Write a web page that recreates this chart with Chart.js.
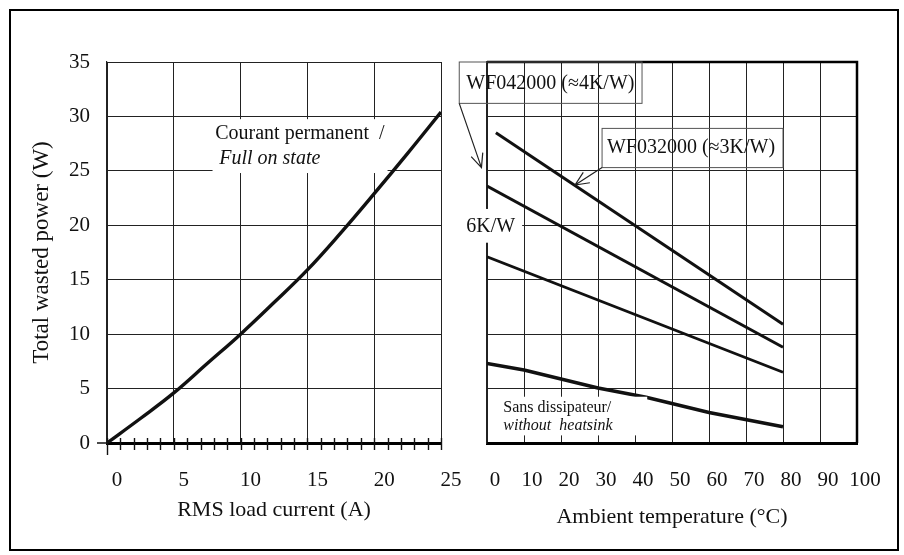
<!DOCTYPE html>
<html>
<head>
<meta charset="utf-8">
<script src="https://cdn.jsdelivr.net/npm/chart.js@4.4.1/dist/chart.umd.min.js"></script>
<style>
    html, body { margin: 0; padding: 0; background: #fff; }
    #wrap { position: relative; width: 904px; height: 555px; overflow: hidden; }
    #frame { position: absolute; left: 9px; top: 9px; width: 886px; height: 538px; border: 2px solid #000; }
    canvas { position: absolute; left: 0; top: 0; }
</style>
</head>
<body>
<div id="wrap">
    <div id="frame"></div>
    <canvas id="leftChart" width="904" height="555"></canvas>
    <canvas id="rightChart" width="904" height="555"></canvas>
</div>
<script>
// Left panel: total wasted power vs RMS load current
const currentA = [0, 2.5, 5, 7.5, 10, 12.5, 15, 17.5, 20, 22.5, 25];
const powerW = [0, 2.25, 4.6, 7.3, 10, 12.9, 15.9, 19.3, 22.9, 26.6, 30.4];

// Right panel: allowed power vs ambient temperature, per heatsink
const tempWF032 = [2.4, 80];
const powerWF032 = [28.5, 10.9];
const tempWF042 = [0, 80];
const powerWF042 = [23.6, 8.8];
const temp6KW = [0, 80];
const power6KW = [17.1, 6.5];
const tempNoSink = [0, 10, 30, 43, 60, 80];
const powerNoSink = [7.3, 6.7, 5.05, 4.2, 2.8, 1.5];

// Axis ticks
const leftXTicks = [0, 5, 10, 15, 20, 25];
const rightXTicks = [0, 10, 20, 30, 40, 50, 60, 70, 80, 90, 100];
const yTicks = [0, 5, 10, 15, 20, 25, 30, 35];

const SERIF = "'Liberation Serif', 'Times New Roman', serif";
Chart.defaults.font.family = SERIF;
Chart.defaults.color = '#111';

const toPoints = (xs, ys) => xs.map((x, i) => ({ x: x, y: ys[i] }));
const px = (chart, x, y) => [chart.scales.x.getPixelForValue(x), chart.scales.y.getPixelForValue(y)];

function whiteBox(chart, x1, y1, x2, y2) {
    const [a, b] = px(chart, x1, y1);
    const [c, d] = px(chart, x2, y2);
    chart.ctx.fillStyle = '#fff';
    chart.ctx.fillRect(a, b, c - a, d - b);
}

function label(chart, text, x, y, size, italic) {
    const ctx = chart.ctx;
    const [a, b] = px(chart, x, y);
    ctx.font = (italic ? 'italic ' : '') + size + 'px ' + SERIF;
    ctx.fillStyle = '#111';
    ctx.textBaseline = 'middle';
    ctx.textAlign = 'left';
    ctx.fillText(text, a, b);
}

function arrow(chart, x1, y1, x2, y2) {
    const ctx = chart.ctx;
    const [a, b] = px(chart, x1, y1);
    const [c, d] = px(chart, x2, y2);
    const ang = Math.atan2(d - b, c - a);
    ctx.strokeStyle = '#222';
    ctx.lineWidth = 1.2;
    ctx.beginPath();
    ctx.moveTo(a, b);
    ctx.lineTo(c, d);
    ctx.moveTo(c - 15 * Math.cos(ang - 0.42), d - 15 * Math.sin(ang - 0.42));
    ctx.lineTo(c, d);
    ctx.lineTo(c - 15 * Math.cos(ang + 0.42), d - 15 * Math.sin(ang + 0.42));
    ctx.stroke();
}

const leftDecor = {
    id: 'leftDecor',
    afterDatasetsDraw(chart) {
        const ctx = chart.ctx;
        ctx.save();
        whiteBox(chart, 7.9, 29.75, 21, 24.8);
        label(chart, 'Courant permanent  /', 8.1, 28.4, 20, false);
        label(chart, 'Full on state', 8.4, 26.1, 20, true);
        ctx.restore();
    },
    afterDraw(chart) {
        // minor ticks every 1 A across the bottom axis
        const ctx = chart.ctx;
        const xs = chart.scales.x;
        const y0 = chart.scales.y.getPixelForValue(0);
        ctx.save();
        ctx.strokeStyle = '#111';
        ctx.lineWidth = 1.4;
        ctx.beginPath();
        for (let v = 0; v <= 25; v++) {
            const x = Math.round(xs.getPixelForValue(v)) + 0.5;
            ctx.moveTo(x, y0 - 5);
            ctx.lineTo(x, y0 + (v === 0 ? 12 : 7));
        }
        ctx.moveTo(chart.chartArea.left - 10, y0);
        ctx.lineTo(chart.chartArea.left, y0);
        ctx.stroke();
        ctx.restore();
    }
};

const rightDecor = {
    id: 'rightDecor',
    afterDatasetsDraw(chart) {
        const ctx = chart.ctx;
        const area = chart.chartArea;
        ctx.save();
        // thick top and right frame of the panel
        ctx.strokeStyle = '#000';
        ctx.lineWidth = 2.5;
        ctx.beginPath();
        ctx.moveTo(area.left, area.top);
        ctx.lineTo(area.right, area.top);
        ctx.lineTo(area.right, area.bottom);
        ctx.stroke();

        // label boxes
        ctx.strokeStyle = '#555';
        ctx.lineWidth = 1;
        let [a, b] = px(chart, -7.5, 35);
        let [c, d] = px(chart, 41.9, 31.2);
        ctx.strokeRect(a, b, c - a, d - b);
        [a, b] = px(chart, 31.1, 28.9);
        [c, d] = px(chart, 80, 25.3);
        ctx.strokeRect(a, b, c - a, d - b);

        label(chart, 'WF042000 (\u22484K/W)', -5.6, 33.0, 20, false);
        label(chart, 'WF032000 (\u22483K/W)', 32.4, 27.1, 20, false);
        arrow(chart, -7.5, 31.2, -1.5, 25.3);
        arrow(chart, 31.1, 25.3, 23.8, 23.7);

        whiteBox(chart, -6.7, 21.5, 9.5, 18.4);
        label(chart, '6K/W', -5.6, 19.9, 20, false);

        whiteBox(chart, 2.8, 4.25, 43.3, 0.7);
        label(chart, 'Sans dissipateur/', 4.4, 3.2, 16, false);
        label(chart, 'without  heatsink', 4.4, 1.55, 16, true);
        ctx.restore();
    }
};

const commonY = {
    type: 'linear',
    min: 0,
    max: 35,
    afterBuildTicks: s => { s.ticks = yTicks.map(v => ({ value: v })); },
    grid: { color: '#222', lineWidth: 1, drawTicks: false },
    border: { color: '#222', width: 1.2 }
};

new Chart(document.getElementById('leftChart'), {
    type: 'line',
    data: {
        datasets: [{
            data: toPoints(currentA, powerW),
            borderColor: '#111',
            borderWidth: 3.4,
            pointRadius: 0,
            tension: 0.4,
            fill: false
        }]
    },
    options: {
        responsive: false,
        animation: false,
        devicePixelRatio: 1,
        events: [],
        layout: { padding: { left: 0, top: 62, right: 463, bottom: 0 } },
        plugins: { legend: { display: false }, tooltip: { enabled: false } },
        scales: {
            x: {
                type: 'linear',
                min: 0,
                max: 25,
                afterBuildTicks: s => { s.ticks = leftXTicks.map(v => ({ value: v })); },
                afterFit: s => { s.height = 112; },
                grid: { color: '#222', lineWidth: 1, drawTicks: false },
                border: { color: '#000', width: 3 },
                ticks: { padding: 25, labelOffset: 10, font: { size: 21 }, maxRotation: 0, autoSkip: false },
                title: { display: true, text: 'RMS load current (A)', font: { size: 22 }, padding: { top: 0, bottom: 32 } }
            },
            y: Object.assign({}, commonY, {
                afterFit: s => { s.width = 107; },
                ticks: { padding: 17, font: { size: 21 } },
                title: { display: true, text: 'Total wasted power (W)', font: { size: 23 }, padding: { top: 28, bottom: 0 } }
            })
        }
    },
    plugins: [leftDecor]
});

const lineStyle = (pts, w) => ({
    data: pts,
    borderColor: '#111',
    borderWidth: w,
    pointRadius: 0,
    tension: 0,
    fill: false
});

new Chart(document.getElementById('rightChart'), {
    type: 'line',
    data: {
        datasets: [
            lineStyle(toPoints(tempWF032, powerWF032), 3),
            lineStyle(toPoints(tempWF042, powerWF042), 3),
            lineStyle(toPoints(temp6KW, power6KW), 2.8),
            lineStyle(toPoints(tempNoSink, powerNoSink), 3.6)
        ]
    },
    options: {
        responsive: false,
        animation: false,
        devicePixelRatio: 1,
        events: [],
        layout: { padding: { left: 487, top: 62, right: 47, bottom: 0 } },
        plugins: { legend: { display: false }, tooltip: { enabled: false } },
        scales: {
            x: {
                type: 'linear',
                min: 0,
                max: 100,
                afterBuildTicks: s => { s.ticks = rightXTicks.map(v => ({ value: v })); },
                afterFit: s => { s.height = 112; },
                grid: { color: '#222', lineWidth: 1, drawTicks: false },
                border: { color: '#000', width: 3 },
                ticks: { padding: 25, labelOffset: 8, font: { size: 21 }, maxRotation: 0, autoSkip: false },
                title: { display: true, text: 'Ambient temperature (\u00B0C)', font: { size: 22 }, padding: { top: 0, bottom: 25 } }
            },
            y: Object.assign({}, commonY, {
                afterFit: s => { s.width = 0; },
                ticks: { display: false }
            })
        }
    },
    plugins: [rightDecor]
});
</script>
</body>
</html>
